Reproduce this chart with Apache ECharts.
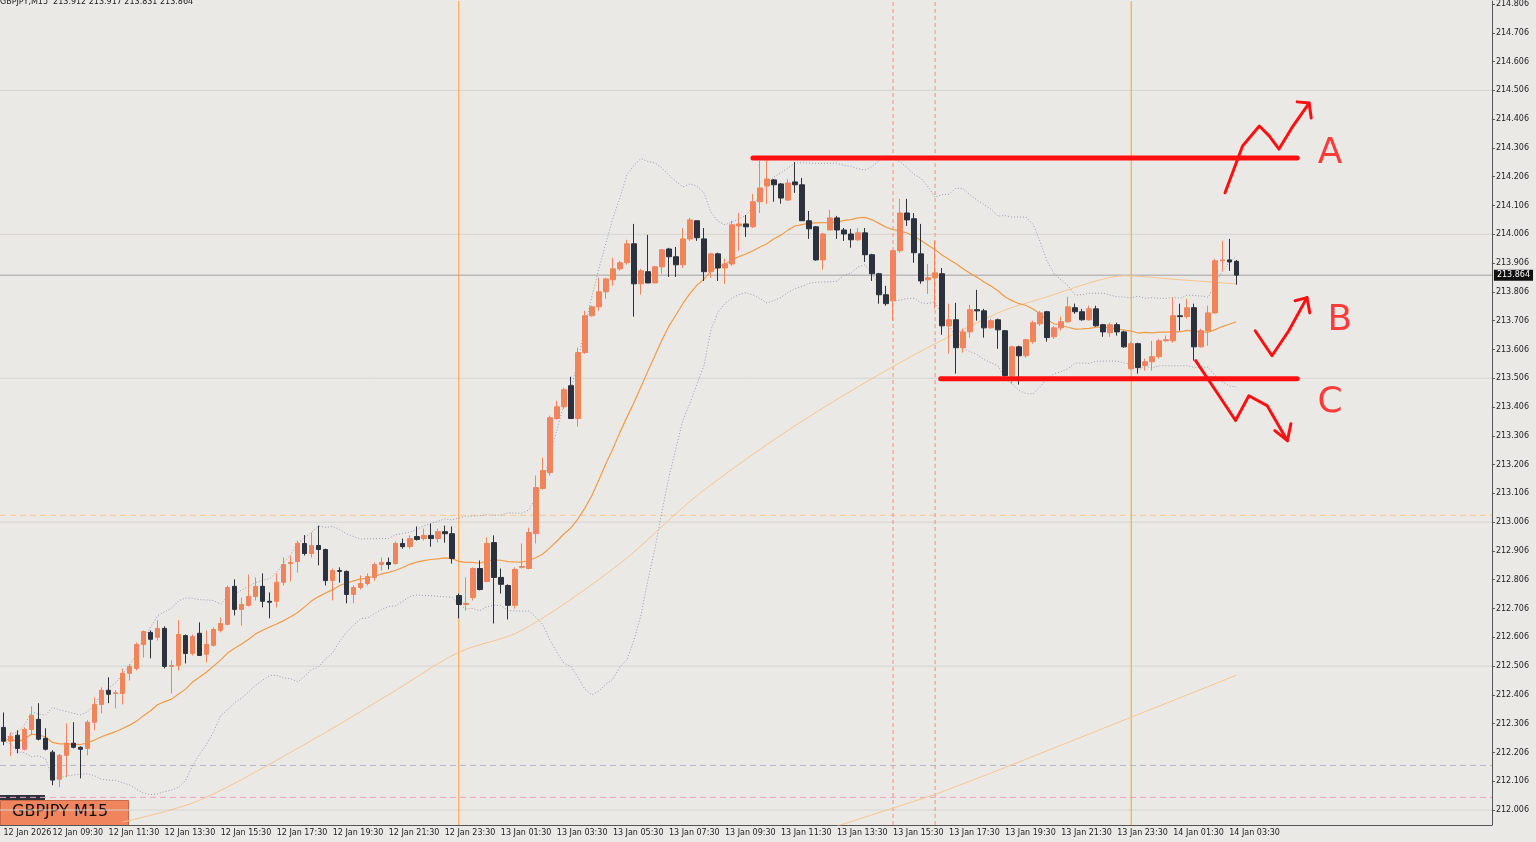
<!DOCTYPE html>
<html><head><meta charset="utf-8">
<script src="https://cdn.jsdelivr.net/npm/echarts@6/dist/echarts.min.js"></script>
<style>html,body{margin:0;padding:0;background:#ebe9e6;}#c{width:1536px;height:842px;}</style>
</head><body><div id="c"></div>
<script>
const openP = [212.293,212.245,212.266,212.217,212.286,212.321,212.255,212.207,212.113,212.196,
212.238,212.224,212.220,212.311,212.373,212.422,212.411,212.411,212.481,212.498,
212.581,212.623,212.606,212.637,212.505,212.508,212.612,212.550,212.620,212.547,
212.578,212.630,212.651,212.783,212.703,212.717,212.748,212.783,212.731,212.731,
212.797,212.862,212.869,212.932,212.897,212.925,212.911,212.803,212.838,212.835,
212.755,212.779,212.793,212.814,212.859,212.866,212.862,212.932,212.921,212.956,
212.949,212.960,212.949,212.973,212.966,212.751,212.720,212.744,212.845,212.800,
212.935,212.814,212.786,212.717,212.849,212.845,212.966,213.123,213.178,213.366,
213.407,213.480,213.366,213.595,213.723,213.754,213.806,213.848,213.886,213.907,
213.973,213.834,213.876,213.837,213.893,213.955,213.928,213.900,213.990,214.053,
213.990,213.876,213.938,213.889,213.903,214.035,214.042,214.032,214.119,214.174,
214.195,214.181,214.125,214.188,214.178,214.053,214.032,213.917,214.021,214.063,
214.021,214.007,213.987,214.011,213.935,213.869,213.796,213.775,213.949,214.080,
214.060,213.938,213.848,213.855,213.869,213.688,213.709,213.612,213.667,213.744,
213.740,213.681,213.709,213.671,213.515,213.615,213.584,213.633,213.695,213.737,
213.650,213.681,213.702,213.751,213.737,213.709,213.747,213.692,213.664,213.692,
213.667,213.539,213.626,213.550,213.563,213.581,213.636,213.636,213.723,213.720,
213.751,213.615,213.671,213.733,213.914,213.917,213.912];
const closeP = [212.245,212.262,212.220,212.286,212.335,212.252,212.217,212.110,212.196,212.238,
212.224,212.217,212.311,212.373,212.422,212.408,212.413,212.481,212.505,212.581,
212.626,212.599,212.637,212.505,212.508,212.616,212.550,212.609,212.543,212.581,
212.633,212.654,212.779,212.703,212.720,212.748,212.783,212.731,212.728,212.797,
212.859,212.866,212.932,212.897,212.925,212.911,212.803,212.838,212.835,212.755,
212.779,212.793,212.817,212.859,212.866,212.859,212.932,212.921,212.949,212.946,
212.960,212.949,212.973,212.966,212.880,212.720,212.724,212.845,212.772,212.932,
212.814,212.790,212.717,212.842,212.852,212.970,213.126,213.185,213.369,213.407,
213.466,213.366,213.595,213.723,213.754,213.806,213.851,213.886,213.907,213.973,
213.834,213.879,213.837,213.893,213.952,213.928,213.900,213.990,214.056,213.994,
213.876,213.938,213.889,213.903,214.039,214.042,214.032,214.119,214.167,214.198,
214.178,214.132,214.184,214.178,214.053,214.025,213.917,214.007,214.063,214.021,
214.007,213.987,214.011,213.935,213.869,213.796,213.765,213.949,214.080,214.056,
213.942,213.844,213.855,213.872,213.688,213.709,213.612,213.667,213.744,213.740,
213.681,213.706,213.674,213.515,213.615,213.584,213.640,213.699,213.733,213.647,
213.681,213.702,213.754,213.737,213.709,213.747,213.688,213.667,213.692,213.667,
213.615,213.626,213.543,213.563,213.581,213.636,213.640,213.723,213.720,213.751,
213.615,213.671,213.733,213.914,213.917,213.910,213.864];
const lowP = [212.231,212.193,212.203,212.213,212.266,212.248,212.213,212.092,212.085,212.120,
212.220,212.116,212.196,212.283,212.342,212.377,212.359,212.373,212.456,212.491,
212.536,212.533,212.595,212.498,212.411,212.491,212.515,212.543,212.543,212.519,
212.574,212.623,212.647,212.682,212.647,212.713,212.734,212.710,212.672,212.710,
212.786,212.800,212.831,212.890,212.883,212.856,212.786,212.734,212.796,212.724,
212.724,212.772,212.786,212.803,212.838,212.842,212.859,212.914,212.914,212.942,
212.942,212.921,212.935,212.935,212.862,212.672,212.699,212.734,212.769,212.797,
212.654,212.758,212.668,212.706,212.845,212.842,212.932,213.119,213.168,213.362,
213.400,213.366,213.338,213.591,213.720,213.740,213.782,213.827,213.879,213.900,
213.720,213.796,213.837,213.837,213.869,213.858,213.858,213.889,213.983,213.983,
213.844,213.855,213.844,213.834,213.896,213.949,213.997,214.028,214.080,214.112,
214.119,214.112,214.122,214.150,214.053,213.990,213.914,213.883,214.021,213.990,
213.983,213.959,213.983,213.910,213.844,213.765,213.758,213.706,213.942,214.035,
213.907,213.834,213.799,213.747,213.657,213.591,213.522,213.595,213.647,213.706,
213.647,213.678,213.608,213.511,213.487,213.484,213.577,213.626,213.688,213.633,
213.643,213.671,213.699,213.730,213.706,213.706,213.685,213.650,213.650,213.654,
213.612,213.536,213.522,213.532,213.532,213.574,213.633,213.629,213.671,213.713,
213.567,213.612,213.619,213.730,213.879,213.879,213.831];
const highP = [212.345,212.276,212.283,212.293,212.366,212.377,212.290,212.214,212.200,212.307,
212.311,212.227,212.318,212.397,212.432,212.467,212.422,212.498,212.512,212.588,
212.630,212.630,212.665,212.644,212.526,212.665,212.616,212.616,212.658,212.630,
212.640,212.675,212.786,212.807,212.744,212.824,212.814,212.828,212.762,212.828,
212.883,212.890,212.942,212.961,212.970,212.994,212.914,212.845,212.849,212.838,
212.786,212.821,212.828,212.866,212.883,212.883,212.939,212.949,212.960,212.991,
212.984,213.001,212.984,212.994,212.991,212.758,212.814,212.849,212.873,212.953,
212.960,212.845,212.790,212.849,212.932,212.987,213.168,213.230,213.376,213.428,
213.473,213.511,213.612,213.740,213.758,213.855,213.855,213.924,213.914,213.987,
214.042,213.886,214.004,213.896,213.955,213.959,213.962,214.028,214.063,214.053,
214.028,213.942,213.942,213.921,214.053,214.080,214.073,214.146,214.261,214.261,
214.198,214.184,214.198,214.257,214.202,214.087,214.035,214.011,214.091,214.070,
214.028,214.025,214.028,214.028,213.938,213.872,213.827,213.952,214.129,214.129,
214.080,214.042,213.903,213.983,213.889,213.765,213.768,213.678,213.761,213.813,
213.747,213.713,213.713,213.674,213.619,213.619,213.643,213.706,213.740,213.740,
213.688,213.720,213.789,213.765,213.747,213.758,213.758,213.695,213.699,213.699,
213.671,213.633,213.629,213.574,213.636,213.643,213.654,213.786,213.765,213.782,
213.765,213.678,213.758,213.921,213.983,213.990,213.917];

// slow moving averages at sample candles
const slowMaIdx = [17,28,44,56,65,74,88,99,113,128,142,149,156,160,168,176];
const slowMaVal = [211.964,212.040,212.248,212.422,212.554,212.630,212.862,213.098,213.341,213.560,213.733,213.789,213.844,213.862,213.848,213.834];
const slowMa2Idx = [119,133,142,176];
const slowMa2Val = [211.950,212.060,212.144,212.474];

const tickIdx = [0,7,15,23,31,39,47,55,63,71,79,87,95,103,111,119,127,135,143,151,159,167,175];
const tickLabels = ['12 Jan 2026','12 Jan 09:30','12 Jan 11:30','12 Jan 13:30','12 Jan 15:30','12 Jan 17:30','12 Jan 19:30','12 Jan 21:30','12 Jan 23:30','13 Jan 01:30','13 Jan 03:30','13 Jan 05:30','13 Jan 07:30','13 Jan 09:30','13 Jan 11:30','13 Jan 13:30','13 Jan 15:30','13 Jan 17:30','13 Jan 19:30','13 Jan 21:30','13 Jan 23:30','14 Jan 01:30','14 Jan 03:30'];
const priceTicks = [212.006,212.106,212.206,212.306,212.406,212.506,212.606,212.706,212.806,212.906,213.006,213.106,213.206,213.306,213.406,213.506,213.606,213.706,213.806,213.906,214.006,214.106,214.206,214.306,214.406,214.506,214.606,214.706,214.806];
const gridLevels = [212.006,212.506,213.006,213.506,214.006,214.506];
const dayLines = [65,161];
const sessionLines = [127,133];
const lastPrice = 213.864;

// hand-drawn annotation
const resistance = [[107,214.271],[184.7,214.271]];
const support = [[133.8,213.504],[184.7,213.504]];
const pathA = [[174.4,214.150],[176.9,214.313],[179.3,214.382],[180.7,214.348],[182.1,214.302],[184.1,214.382],[186.4,214.462]];
const headA = [[184.7,214.466],[186.4,214.462],[186.7,214.410]];
const pathB = [[178.7,213.671],[181.1,213.584],[183.5,213.671],[186.1,213.786]];
const headB = [[184.4,213.775],[186.1,213.786],[186.5,213.733]];
const pathC = [[170.2,213.567],[172.6,213.480],[175.9,213.359],[177.8,213.445],[180.4,213.411],[183.3,213.289]];
const headC = [[181.5,213.324],[183.3,213.289],[183.8,213.348]];
const letters = [['A',189.4,214.285],['B',190.8,213.706],['C',189.4,213.421]];

const N = 213;
const cats = Array.from({length:N},(_,i)=>String(i));
const candles = openP.map((o,i)=>[o,closeP[i],lowP[i],highP[i]]);
const ma=[],up=[],dn=[];
for(let i=0;i<closeP.length;i++){
  const w=closeP.slice(Math.max(0,i-19),i+1);
  const m=w.reduce((a,b)=>a+b,0)/w.length;
  const sd=Math.sqrt(w.reduce((a,b)=>a+(b-m)*(b-m),0)/w.length);
  ma.push(+m.toFixed(4)); up.push(+(m+2*sd).toFixed(4)); dn.push(+(m-2*sd).toFixed(4));
}
const YMIN=211.954, YMAX=214.816;
const chart = echarts.init(document.getElementById('c'));
const redLine = (d,w)=>({type:'line',xAxisIndex:1,data:d,symbol:'none',lineStyle:{color:'#ff1010',width:w,cap:'round',join:'round'},z:20,silent:true});
const vLine = (x,color,type)=>({type:'line',xAxisIndex:1,data:[[x,YMIN],[x,YMAX]],symbol:'none',lineStyle:{color,type,width:1},z:1,silent:true});
const hLine = (v,color,type)=>({type:'line',xAxisIndex:1,data:[[-0.5,v],[N-0.5,v]],symbol:'none',lineStyle:{color,type,width:1},z:1,silent:true});
chart.setOption({
  backgroundColor:'#ebe9e6',
  animation:false,
  grid:{left:0,right:43,top:0,bottom:17},
  xAxis:[{type:'category',data:cats,boundaryGap:true,
    axisLine:{onZero:false,lineStyle:{color:'#555'}},axisTick:{show:false},splitLine:{show:false},
    axisLabel:{interval:0,showMinLabel:true,hideOverlap:false,formatter:(v)=>{const k=tickIdx.indexOf(+v);return k>=0?tickLabels[k]:'';},
      align:'left',fontSize:8,color:'#222',fontFamily:'DejaVu Sans',margin:4}},
    {type:'value',min:-0.5,max:N-0.5,show:false,axisLine:{onZero:false}}],
  yAxis:[{type:'value',position:'right',min:YMIN,max:YMAX,
    axisLine:{show:true,onZero:false,lineStyle:{color:'#555'}},
    axisTick:{show:true,length:3,customValues:priceTicks,lineStyle:{color:'#555'}},
    splitLine:{show:false},
    axisLabel:{customValues:priceTicks,formatter:v=>v.toFixed(3),fontSize:8,color:'#222',fontFamily:'DejaVu Sans',margin:4}},
    {type:'value',position:'right',min:YMIN,max:YMAX,axisLine:{show:false,onZero:false},axisTick:{show:false},splitLine:{show:false},
    axisLabel:{customValues:[lastPrice],formatter:v=>v.toFixed(3),fontSize:8,color:'#fff',backgroundColor:'#111',padding:[2,3,1,3],fontFamily:'DejaVu Sans',margin:2}}],
  series:[
    ...gridLevels.map(v=>hLine(v,'#d6d4d0','solid')),
    hLine(213.030,'#f7c98c',[6,4]),
    hLine(212.161,'#b4b8cc',[6,4]),
    hLine(212.050,'#f2a0bf',[6,4]),
    hLine(lastPrice,'#a0a0a0','solid'),
    ...dayLines.map(x=>vLine(x,'#f5a035','solid')),
    ...sessionLines.map(x=>vLine(x,'#f0907c',[4,3])),
    {type:'line',data:up,symbol:'none',lineStyle:{color:'#9c9cae',width:1,type:[1,2]},z:2,silent:true},
    {type:'line',data:dn,symbol:'none',lineStyle:{color:'#9c9cae',width:1,type:[1,2]},z:2,silent:true},
    {type:'line',data:ma,symbol:'none',lineStyle:{color:'#f29b45',width:1.2},z:3,silent:true},
    {type:'line',xAxisIndex:1,data:slowMaIdx.map((x,i)=>[x,slowMaVal[i]]),symbol:'none',smooth:0.3,lineStyle:{color:'#f8c58e',width:1},z:2,silent:true},
    {type:'line',xAxisIndex:1,data:slowMa2Idx.map((x,i)=>[x,slowMa2Val[i]]),symbol:'none',lineStyle:{color:'#f8c58e',width:1},z:2,silent:true},
    {type:'candlestick',data:candles,barWidth:5,z:5,
      itemStyle:{color:'#ef845d',color0:'#2b323d',borderColor:'#ef845d',borderColor0:'#2b323d',borderWidth:1}},
    redLine(resistance,5),redLine(support,5),
    redLine(pathA,3),redLine(headA,3),redLine(pathB,3),redLine(headB,3),redLine(pathC,3),redLine(headC,3),
    {type:'scatter',xAxisIndex:1,symbolSize:1,itemStyle:{color:'transparent'},z:21,silent:true,
      data:letters.map(l=>({value:[l[1],l[2]],name:l[0]})),
      label:{show:true,position:'inside',formatter:p=>p.name,color:'#ff1010',fontSize:36,fontFamily:'DejaVu Sans',fontWeight:'normal'}}
  ],
  graphic:[
    {type:'text',left:0,top:-2,style:{text:'GBPJPY,M15  213.912 213.917 213.831 213.864',fontSize:8,fill:'#222',fontFamily:'DejaVu Sans'}},
    {type:'rect',left:0,top:795,shape:{width:45,height:5},style:{fill:'#2b323d'}},
    {type:'rect',left:0,top:800,shape:{width:128,height:25},style:{fill:'#ef845d',stroke:'#c86a48'}},
    {type:'text',left:12,top:804,style:{text:'GBPJPY M15',fontSize:16,fill:'#111',fontFamily:'DejaVu Sans'}}
  ]
});
</script></body></html>
